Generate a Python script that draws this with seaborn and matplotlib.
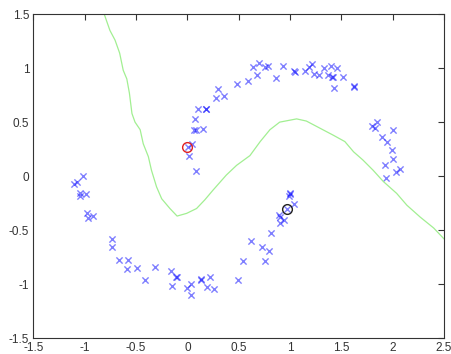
import numpy as np
import pandas as pd
import matplotlib
matplotlib.use("Agg")
import matplotlib.pyplot as plt
import seaborn as sns

# upper moon samples
upper_x = [0.01, 0.045, 0.02, 0.08, 0.06, 0.08, 0.155, 0.07, 0.10, 0.18, 0.185, 0.28, 0.36, 0.30,
           0.48, 0.59, 0.64, 0.70, 0.68, 0.76, 0.79, 0.86, 0.93, 1.04, 1.045, 1.15, 1.19, 1.21,
           1.23, 1.28, 1.33, 1.40, 1.455, 1.37, 1.41, 1.415, 1.52, 1.43, 1.62, 1.625, 1.85, 1.80,
           1.83, 2.00, 1.90, 1.95, 1.99, 2.00, 1.93, 2.07, 2.03, 1.94]
upper_y = [0.27, 0.30, 0.19, 0.05, 0.43, 0.43, 0.435, 0.53, 0.62, 0.62, 0.625, 0.72, 0.74, 0.81,
           0.85, 0.88, 1.01, 1.05, 0.94, 1.01, 1.02, 0.91, 1.02, 0.97, 0.965, 0.975, 1.01, 1.04,
           0.95, 0.94, 1.00, 1.02, 1.00, 0.94, 0.92, 0.915, 0.92, 0.82, 0.83, 0.825, 0.50, 0.46,
           0.45, 0.43, 0.36, 0.32, 0.24, 0.155, 0.10, 0.07, 0.04, -0.015]

# lower moon samples
lower_x = [-1.02, -1.08, -1.10, -1.05, -1.05, -0.99, -0.98, -0.965, -0.92, -0.73, -0.73, -0.67,
           -0.58, -0.59, -0.49, -0.32, -0.41, -0.16, -0.11, -0.105, -0.15, 0.035, 0.0, 0.035,
           0.13, 0.135, 0.22, 0.19, 0.26, 0.49, 0.545, 0.62, 0.73, 0.80, 0.76, 0.82, 0.89, 0.90,
           0.94, 0.90, 0.97, 1.04, 1.00, 0.99, 1.005]
lower_y = [0.0, -0.05, -0.07, -0.155, -0.185, -0.17, -0.34, -0.39, -0.37, -0.58, -0.66, -0.78,
           -0.78, -0.86, -0.855, -0.84, -0.96, -0.88, -0.935, -0.93, -1.015, -1.00, -1.04, -1.10,
           -0.96, -0.955, -0.935, -1.03, -1.05, -0.96, -0.79, -0.60, -0.655, -0.69, -0.79, -0.53,
           -0.36, -0.375, -0.41, -0.43, -0.30, -0.26, -0.155, -0.185, -0.17]

# decision boundary
bound_x = [-0.81, -0.755, -0.705, -0.66, -0.625, -0.59, -0.565, -0.54, -0.51, -0.46, -0.43, -0.38,
           -0.35, -0.30, -0.25, -0.17, -0.10, -0.007, 0.09, 0.17, 0.25, 0.38, 0.48, 0.61, 0.71,
           0.805, 0.90, 1.065, 1.16, 1.26, 1.42, 1.535, 1.62, 1.71, 1.81, 1.91, 2.04, 2.14, 2.27,
           2.40, 2.51]
bound_y = [1.5, 1.35, 1.26, 1.14, 0.98, 0.90, 0.77, 0.58, 0.50, 0.43, 0.30, 0.18, 0.055, -0.10,
           -0.21, -0.30, -0.37, -0.345, -0.30, -0.22, -0.13, 0.01, 0.10, 0.19, 0.32, 0.43, 0.50,
           0.53, 0.51, 0.46, 0.38, 0.32, 0.225, 0.15, 0.055, -0.05, -0.16, -0.27, -0.38, -0.48,
           -0.59]

# highlighted samples
red_pt = (0.0, 0.27)
black_pt = (0.97, -0.30)

sns.set_style("white")
plt.rcParams['font.family'] = ['Liberation Sans', 'DejaVu Sans']

pts = pd.DataFrame({"x": upper_x + lower_x, "y": upper_y + lower_y})
line = pd.DataFrame({"x": bound_x, "y": bound_y})

fig = plt.figure(figsize=(4.52, 3.54), dpi=100)
ax = fig.add_axes([0.074, 0.045, 0.908, 0.915])

sns.lineplot(data=line, x="x", y="y", sort=False, estimator=None, color="#a2ef92",
             linewidth=0.9, ax=ax)
sns.scatterplot(data=pts, x="x", y="y", marker="x", color="#0000ff", alpha=0.5,
                s=20, linewidth=1.0, ax=ax)
ax.plot(*red_pt, "o", mfc="none", mec="#e02020", ms=7, mew=1.0)
ax.plot(*black_pt, "o", mfc="none", mec="#202020", ms=7, mew=1.0)

ax.set_xlim(-1.5, 2.5)
ax.set_ylim(-1.5, 1.5)
ax.set_xticks(np.arange(-1.5, 2.51, 0.5))
ax.set_yticks(np.arange(-1.5, 1.51, 0.5))
ax.set_xticklabels(["-1.5", "-1", "-0.5", "0", "0.5", "1", "1.5", "2", "2.5"])
ax.set_yticklabels(["-1.5", "-1", "-0.5", "0", "0.5", "1", "1.5"])
ax.set_xlabel("")
ax.set_ylabel("")
ax.tick_params(direction="in", top=True, right=True, length=4, width=0.8,
               labelsize=8.5, colors="#333333", pad=3)
for sp in ax.spines.values():
    sp.set_color("#333333")
    sp.set_linewidth(0.8)

fig.savefig("out.png", dpi=100, facecolor="white")
